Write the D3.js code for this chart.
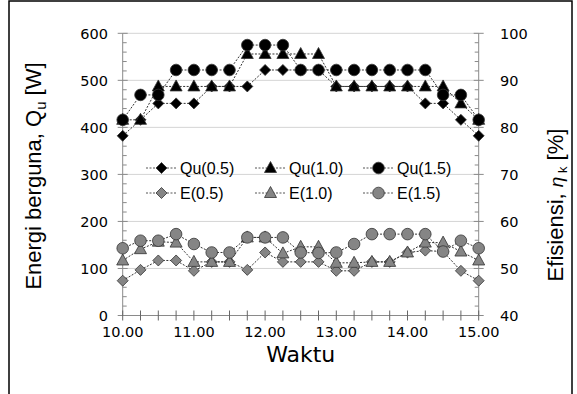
<!DOCTYPE html>
<html><head><meta charset="utf-8">
<script src="https://cdn.jsdelivr.net/npm/d3@7"></script>
<style>body{margin:0;background:#fff}svg{display:block}</style>
</head><body><svg id="c" width="577" height="394"></svg>
<script>
const hours = [10.00,10.25,10.50,10.75,11.00,11.25,11.50,11.75,12.00,12.25,12.50,12.75,13.00,13.25,13.50,13.75,14.00,14.25,14.50,14.75,15.00];
const xTickLabels = ["10.00","11.00","12.00","13.00","14.00","15.00"];
const leftTicks = [0,100,200,300,400,500,600];
const rightTicks = [40,50,60,70,80,90,100];
const qu05 = [382,416,451,451,451,487,487,487,522,522,522,522,487,487,487,487,487,451,451,416,382];
const qu10 = [416,416,487,487,487,487,487,556,556,556,556,556,487,487,487,487,487,487,487,451,416];
const qu15 = [416,469,469,522,522,522,522,575,575,575,522,522,522,522,522,522,522,522,469,469,416];
const e05 = [47.4,49.7,51.7,51.7,49.5,51.4,51.4,49.7,53.4,51.4,51.4,51.4,49.5,49.5,51.4,51.4,53.4,53.8,53.6,49.5,47.4];
const e10 = [51.7,54.1,55.7,55.5,51.4,51.4,51.4,56.6,56.6,53.2,54.6,54.6,51.2,51.2,51.4,51.4,53.4,55.5,55.5,53.6,51.7];
const e15 = [54.3,55.9,55.9,57.3,55.2,53.4,53.4,56.6,56.6,56.6,53.4,53.3,53.4,55.2,57.3,57.3,57.3,57.3,53.6,55.9,54.3];
const seriesNames = ["Qu(0.5)","Qu(1.0)","Qu(1.5)","E(0.5)","E(1.0)","E(1.5)"];

const svg = d3.select("#c");
const x = d3.scaleLinear().domain([10,15]).range([122.7,478.7]);
const yL = d3.scaleLinear().domain([0,600]).range([315.5,33.3]);
const yR = d3.scaleLinear().domain([40,100]).range([315.5,33.3]);
const tickFont = "'DejaVu Sans', Verdana, sans-serif";
const labFont = "'Liberation Sans', Arial, sans-serif";

// frame
svg.append("rect").attr("x",9).attr("y",1).attr("width",563).attr("height",420)
  .attr("fill","none").attr("stroke","#000").attr("stroke-width",1.5);

// gridlines
svg.append("g").selectAll("line").data(leftTicks.filter(d=>d>0)).join("line")
  .attr("x1",x(10)).attr("x2",x(15)).attr("y1",d=>yL(d)).attr("y2",d=>yL(d))
  .attr("stroke","#d4d4d4").attr("stroke-width",1);

// axes lines
const axC = "#8a8a8a";
svg.append("line").attr("x1",x(10)).attr("x2",x(15)).attr("y1",yL(0)).attr("y2",yL(0)).attr("stroke",axC);
svg.append("line").attr("x1",x(10)).attr("x2",x(10)).attr("y1",yL(0)).attr("y2",yL(600)).attr("stroke",axC);
svg.append("line").attr("x1",x(15)).attr("x2",x(15)).attr("y1",yL(0)).attr("y2",yL(600)).attr("stroke",axC);

// left ticks: major crossing, minor inside
const minorL = d3.range(0,601,20).filter(d=>d%100!==0);
svg.append("g").selectAll("line").data(leftTicks).join("line")
  .attr("x1",x(10)-5).attr("x2",x(10)+5).attr("y1",d=>yL(d)).attr("y2",d=>yL(d)).attr("stroke",axC);
svg.append("g").selectAll("line").data(minorL).join("line")
  .attr("x1",x(10)).attr("x2",x(10)+4).attr("y1",d=>yL(d)).attr("y2",d=>yL(d)).attr("stroke",axC);
const minorR = d3.range(40,100.1,2).filter(d=>d%10!==0);
svg.append("g").selectAll("line").data(rightTicks).join("line")
  .attr("x1",x(15)-5).attr("x2",x(15)+5).attr("y1",d=>yR(d)).attr("y2",d=>yR(d)).attr("stroke",axC);
svg.append("g").selectAll("line").data(minorR).join("line")
  .attr("x1",x(15)-4).attr("x2",x(15)).attr("y1",d=>yR(d)).attr("y2",d=>yR(d)).attr("stroke",axC);
// x ticks
svg.append("g").selectAll("line").data(hours).join("line")
  .attr("x1",d=>x(d)).attr("x2",d=>x(d)).attr("y1",yL(0)-5).attr("y2",yL(0)+5).attr("stroke","#666");

// tick labels
svg.append("g").selectAll("text").data(leftTicks).join("text")
  .attr("x",108).attr("y",d=>yL(d)).attr("dy","0.36em").attr("text-anchor","end")
  .attr("font-family",tickFont).attr("font-size",14.5).text(d=>d);
svg.append("g").selectAll("text").data(rightTicks).join("text")
  .attr("x",500).attr("y",d=>yR(d)).attr("dy","0.36em").attr("text-anchor","start")
  .attr("font-family",tickFont).attr("font-size",14.5).text(d=>d);
svg.append("g").selectAll("text").data(xTickLabels).join("text")
  .attr("x",d=>x(+d)).attr("y",337).attr("text-anchor","middle")
  .attr("font-family",tickFont).attr("font-size",14.5).text(d=>d);

// axis titles
svg.append("text").attr("x",x(12.5)).attr("y",362).attr("text-anchor","middle")
  .attr("font-family",tickFont).attr("font-size",22).text("Waktu");
const lt = svg.append("text").attr("transform","translate(41,176) rotate(-90)").attr("text-anchor","middle")
  .attr("font-family",labFont).attr("font-size",22);
lt.append("tspan").text("Energi berguna, Q");
lt.append("tspan").attr("font-size",15).attr("dy",5).text("u");
lt.append("tspan").attr("dy",-5).text(" [W]");
const rt = svg.append("text").attr("transform","translate(563,205) rotate(-90)").attr("text-anchor","middle")
  .attr("font-family",labFont).attr("font-size",22);
rt.append("tspan").text("Efisiensi, ");
rt.append("tspan").attr("font-style","italic").attr("font-size",19).text("η");
rt.append("tspan").attr("font-size",13).attr("dy",4).text(" k");
rt.append("tspan").attr("dy",-4).text(" [%]");

// markers
function marker(g, shape, cx, cy, fill){
  if(shape==="diamond"){
    g.append("path").attr("d",`M${cx},${cy-5.5}L${cx+5.5},${cy}L${cx},${cy+5.5}L${cx-5.5},${cy}Z`)
      .attr("fill",fill).attr("stroke","#333").attr("stroke-width",0.8);
  } else if(shape==="triangle"){
    g.append("path").attr("d",`M${cx},${cy-6.5}L${cx+6},${cy+4.5}L${cx-6},${cy+4.5}Z`)
      .attr("fill",fill).attr("stroke","#333").attr("stroke-width",0.8);
  } else {
    g.append("circle").attr("cx",cx).attr("cy",cy).attr("r",5.8)
      .attr("fill",fill).attr("stroke","#333").attr("stroke-width",0.8);
  }
}
const series = [
  {name:seriesNames[0],vals:qu05,y:yL,shape:"diamond",fill:"#000"},
  {name:seriesNames[1],vals:qu10,y:yL,shape:"triangle",fill:"#000"},
  {name:seriesNames[2],vals:qu15,y:yL,shape:"circle",fill:"#000"},
  {name:seriesNames[3],vals:e05,y:yR,shape:"diamond",fill:"#858585"},
  {name:seriesNames[4],vals:e10,y:yR,shape:"triangle",fill:"#858585"},
  {name:seriesNames[5],vals:e15,y:yR,shape:"circle",fill:"#858585"}
];
const drawOrder = [3,4,5,0,1,2];
drawOrder.forEach(k=>{
  const s = series[k];
  const g = svg.append("g");
  const line = d3.line().x((d,i)=>x(hours[i])).y(d=>s.y(d));
  g.append("path").attr("d",line(s.vals)).attr("fill","none")
    .attr("stroke","#333").attr("stroke-width",1).attr("stroke-dasharray","2,1.5");
  s.vals.forEach((v,i)=>marker(g,s.shape,x(hours[i]),s.y(v),s.fill));
});

// legend
const legX = [146,255,363];
const legY = [168,193];
series.forEach((s,k)=>{
  const lx = legX[k%3], ly = legY[Math.floor(k/3)];
  const g = svg.append("g");
  g.append("line").attr("x1",lx).attr("x2",lx+31).attr("y1",ly).attr("y2",ly)
    .attr("stroke","#555").attr("stroke-width",1).attr("stroke-dasharray","2,1.5");
  marker(g,s.shape,lx+15.5,ly,s.fill);
  g.append("text").attr("x",lx+34).attr("y",ly).attr("dy","0.36em")
    .attr("font-family",labFont).attr("font-size",16).text(s.name);
});
</script></body></html>
